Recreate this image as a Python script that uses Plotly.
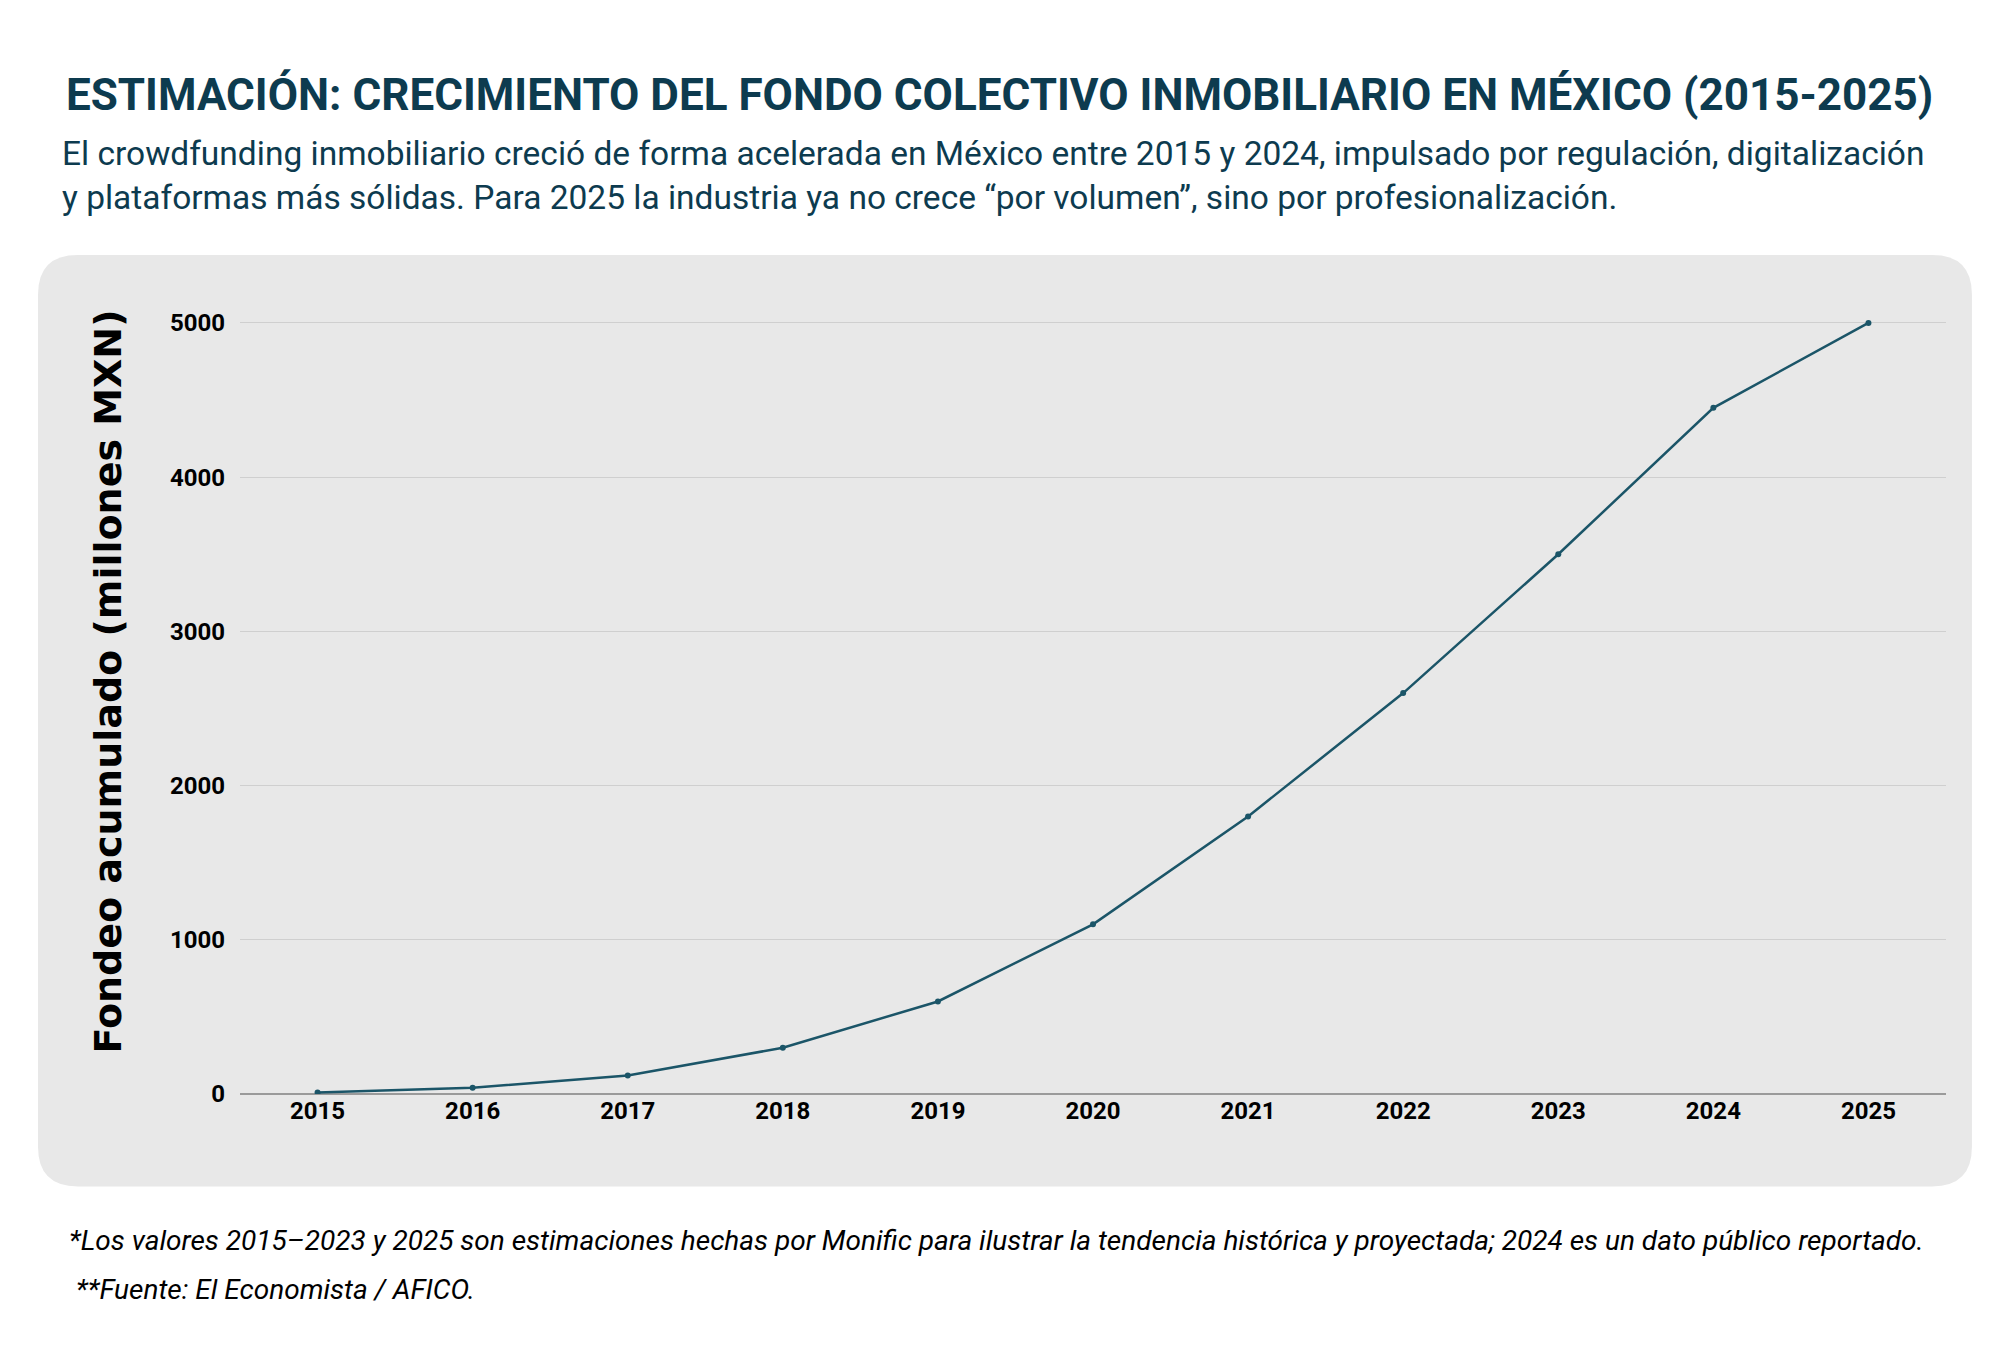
import plotly.graph_objects as go

years = [2015, 2016, 2017, 2018, 2019, 2020, 2021, 2022, 2023, 2024, 2025]
fondeo = [10, 40, 120, 300, 600, 1100, 1800, 2600, 3500, 4450, 5000]
yTicks = [0, 1000, 2000, 3000, 4000, 5000]

titleColor = '#0d3b4f'
lineColor = '#1b5568'

# paper coords of the grey rounded panel
x0, x1, y0, y1 = -0.1184, 1.0152, -0.112, 1.017
rx, ry = 0.0233, 0.048
panel = (f'M {x0+rx},{y0} L {x1-rx},{y0} Q {x1},{y0} {x1},{y0+ry} '
         f'L {x1},{y1-ry} Q {x1},{y1} {x1-rx},{y1} L {x0+rx},{y1} '
         f'Q {x0},{y1} {x0},{y1-ry} L {x0},{y0+ry} Q {x0},{y0} {x0+rx},{y0} Z')

fig = go.Figure(go.Scatter(
    x=years, y=fondeo, mode='lines+markers',
    line=dict(color=lineColor, width=2.5),
    marker=dict(color=lineColor, size=6)))

fig.update_layout(
    width=2000, height=1350,
    margin=dict(l=232, r=62, t=261, b=264),
    paper_bgcolor='white', plot_bgcolor='rgba(0,0,0,0)',
    showlegend=False,
    font=dict(family='Roboto', color='black'),
    shapes=[dict(type='path', path=panel, xref='paper', yref='paper',
                 fillcolor='#e8e8e8', line=dict(width=0), layer='below')],
    annotations=[
        dict(text='<b>ESTIMACIÓN: CRECIMIENTO DEL FONDO COLECTIVO INMOBILIARIO EN MÉXICO (2015-2025)</b>',
             xref='paper', yref='paper', x=0.445, y=1.211, xanchor='center', yanchor='middle',
             showarrow=False, font=dict(size=44, color=titleColor, family='Roboto')),
        dict(text='El crowdfunding inmobiliario creció de forma acelerada en México entre 2015 y 2024, impulsado por regulación, digitalización<br>'
                  'y plataformas más sólidas. Para 2025 la industria ya no crece “por volumen”, sino por profesionalización.',
             xref='paper', yref='paper', x=-0.1056, y=1.113, xanchor='left', yanchor='middle',
             align='left', showarrow=False, font=dict(size=33.5, color=titleColor, family='Roboto')),
        dict(text='<i>*Los valores 2015–2023 y 2025 son estimaciones hechas por Monific para ilustrar la tendencia histórica y proyectada; 2024 es un dato público reportado.</i>',
             xref='paper', yref='paper', x=-0.1015, y=-0.1773, xanchor='left', yanchor='middle',
             showarrow=False, font=dict(size=28, color='black', family='Roboto')),
        dict(text='<i>**Fuente: El Economista / AFICO.</i>',
             xref='paper', yref='paper', x=-0.0975, y=-0.2364, xanchor='left', yanchor='middle',
             showarrow=False, font=dict(size=28, color='black', family='Roboto')),
    ],
)
fig.update_xaxes(
    range=[2014.5, 2025.5], tickvals=years, ticktext=[f'<b>{y}</b>' for y in years],
    showgrid=False, zeroline=False, showline=False,
    tickfont=dict(size=24, family='Roboto', color='black'))
fig.update_yaxes(
    range=[0, 5350], tickvals=yTicks, ticktext=[f'<b>{v}</b>' for v in yTicks],
    showgrid=True, gridcolor='#cfcfcf', gridwidth=1,
    zeroline=True, zerolinecolor='#9a9a9a', zerolinewidth=1.5,
    ticklabelstandoff=14,
    tickfont=dict(size=24, family='Roboto', color='black'),
    title=dict(text='<b>Fondeo acumulado (millones MXN)</b>', standoff=36,
               font=dict(size=38, family='DejaVu Sans', color='black')))

fig.write_html('out.html')
